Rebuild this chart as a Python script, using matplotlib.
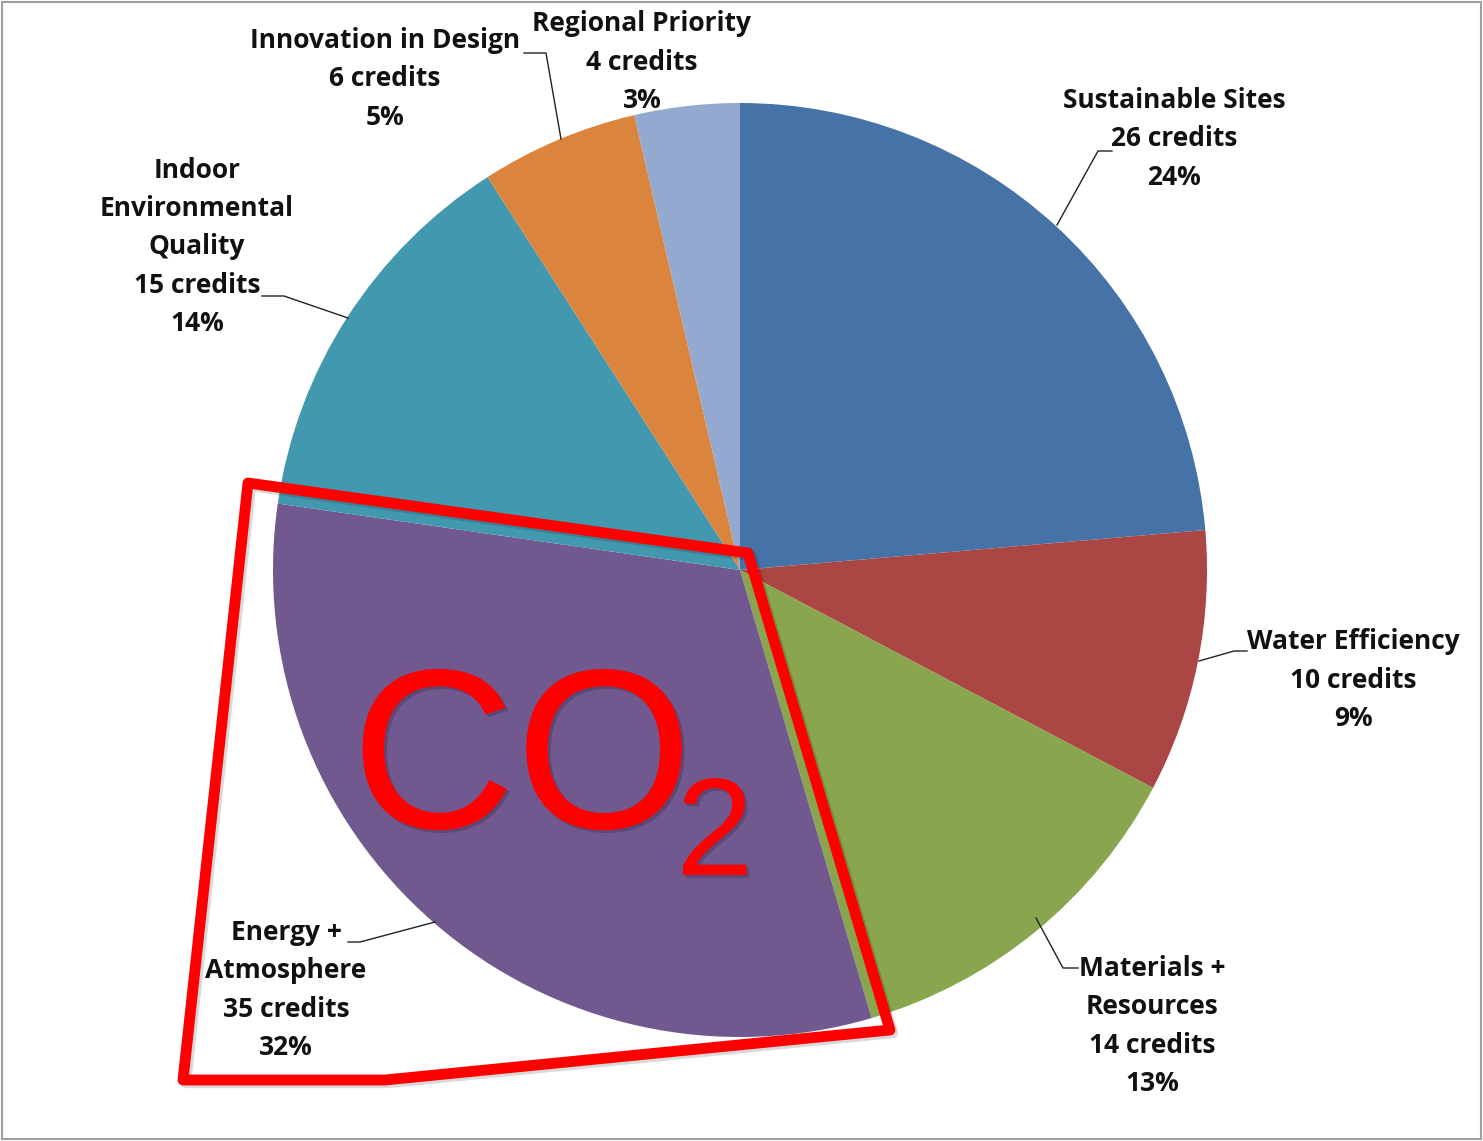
import matplotlib
matplotlib.use("Agg")
import matplotlib.pyplot as plt
from matplotlib import patheffects as pe
from matplotlib.patches import Polygon, Rectangle

# ---------------- data ----------------
categories = ["Sustainable Sites", "Water Efficiency", "Materials +\nResources",
              "Energy +\nAtmosphere", "Indoor\nEnvironmental\nQuality",
              "Innovation in Design", "Regional Priority"]
credits = [26, 10, 14, 35, 15, 6, 4]
percents = [24, 9, 13, 32, 14, 5, 3]
colors = ["#4572A7", "#AA4643", "#89A54E", "#71588F", "#4198AF", "#DB843D", "#93A9CF"]

# ---------------- layout (pixel coords) ----------------
W, H = 1483, 1141
center = (740, 570)
radius = 467
label_pos = [(1174, 139), (1353, 680), (1152, 1026), (286, 990),
             (197, 247), (385, 79), (642, 62)]
leaders = [
    [(1057, 225), (1098, 151), (1112, 151)],
    [(1199, 661), (1234, 651), (1247, 651)],
    [(1036, 918), (1063, 968), (1078, 968)],
    [(435, 922), (360, 942), (348, 942)],
    [(348, 318), (284, 296), (262, 296)],
    [(561, 139), (546, 53), (524, 53)],
    None,
]
highlight = [(248, 483), (748, 553), (890, 1030), (385, 1080), (183, 1080)]

fig = plt.figure(figsize=(W / 100, H / 100), dpi=100)
ax = fig.add_axes([0, 0, 1, 1])

ax.pie(credits, colors=colors, startangle=-90, counterclock=True,
       center=center, radius=radius, wedgeprops=dict(linewidth=0))
ax.set_xlim(0, W)
ax.set_ylim(H, 0)
ax.set_aspect("equal")
ax.axis("off")

# border
ax.add_patch(Rectangle((2, 2), W - 4, H - 4, fill=False, edgecolor="#a0a0a0", lw=1.5))

# labels
for cat, cr, pc, pos in zip(categories, credits, percents, label_pos):
    ax.text(pos[0], pos[1], f"{cat}\n{cr} credits\n{pc}%", ha="center", va="center",
            fontsize=19, fontweight="bold", family="Open Sans", color="#111111",
            linespacing=1.53)

for ld in leaders:
    if ld:
        xs, ys = zip(*ld)
        ax.plot(xs, ys, color="#222222", lw=1.0)

# red highlight polygon
poly = Polygon(highlight, closed=True, fill=False, edgecolor="#FF0000", lw=7.8,
               joinstyle="round",
               path_effects=[pe.SimpleLineShadow(offset=(2, -2), shadow_color="black", alpha=0.15),
                             pe.Normal()])
ax.add_patch(poly)

shadow = [pe.SimplePatchShadow(offset=(2, -2), shadow_rgbFace="black", alpha=0.18), pe.Normal()]
ax.text(351, 828, "CO", fontsize=164, family="Liberation Sans", color="#FF0000",
        ha="left", va="baseline", path_effects=shadow)
ax.text(676, 875, "2", fontsize=100, family="Liberation Sans", color="#FF0000",
        ha="left", va="baseline", path_effects=shadow)

fig.savefig("out.png", dpi=100)
